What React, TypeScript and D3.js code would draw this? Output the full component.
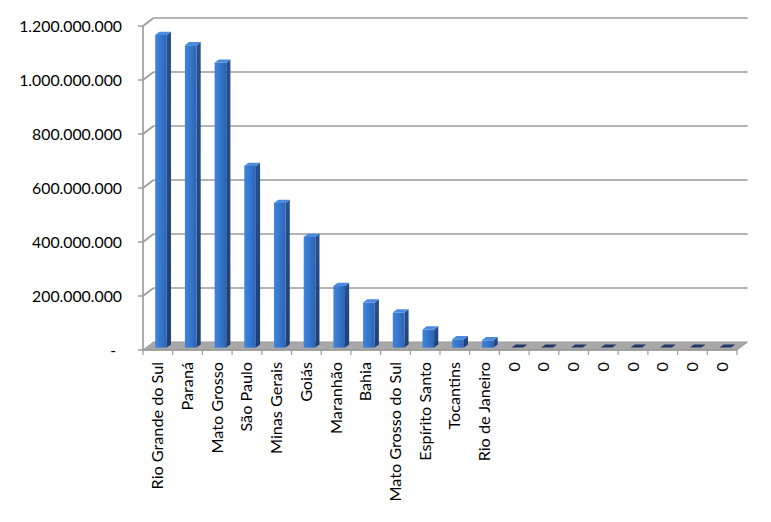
import React from "react";
import * as d3 from "d3";

const categories: string[] = [
  "Rio Grande do Sul", "Paraná", "Mato Grosso", "São Paulo", "Minas Gerais", "Goiás",
  "Maranhão", "Bahia", "Mato Grosso do Sul", "Espírito Santo", "Tocantins", "Rio de Janeiro",
  "0", "0", "0", "0", "0", "0", "0", "0",
];
const values: number[] = [
  1158e6, 1120e6, 1055e6, 673e6, 536e6, 410e6, 228e6, 167e6, 130e6, 67e6, 31e6, 27e6,
  0, 0, 0, 0, 0, 0, 0, 0,
];
const yTicks: number[] = [0, 200e6, 400e6, 600e6, 800e6, 1000e6, 1200e6];

const W = 771;
const H = 522;
const left = 143;
const right = 737;
const bottom = 350;
const top = 26;
const DX = 10.5;
const DY = -8;
const FONT = "Lato, 'Open Sans', sans-serif";

const ptBR = d3.formatLocale({ decimal: ",", thousands: ".", grouping: [3], currency: ["R$", ""] });
const fmt = ptBR.format(",.0f");

export default function App() {
  const x = d3.scaleBand<number>().domain(d3.range(categories.length)).range([left, right]).paddingInner(0).paddingOuter(0);
  const y = d3.scaleLinear().domain([0, 1.2e9]).range([bottom, top]);
  const bw = x.bandwidth() * 0.39;
  const t0 = 0.3;
  const t1 = 0.7;

  const pts = (arr: [number, number][]) => arr.map((p) => p.join(",")).join(" ");

  return (
    <svg width={W} height={H} style={{ position: "absolute", left: 0, top: 0, background: "#fff" }}>
      <defs>
        <linearGradient id="front" x1="0" x2="1" y1="0" y2="0">
          <stop offset="0" stopColor="#3f84dc" />
          <stop offset="0.5" stopColor="#3676cc" />
          <stop offset="1" stopColor="#2c63b3" />
        </linearGradient>
        <linearGradient id="side" x1="0" x2="0" y1="0" y2="1">
          <stop offset="0" stopColor="#26508f" />
          <stop offset="1" stopColor="#1d3f73" />
        </linearGradient>
      </defs>

      {/* back wall gridlines */}
      {yTicks.slice(1).map((v) => (
        <g key={"g" + v} stroke="#9a9a9a" strokeWidth={1.6} fill="none">
          <line x1={left + DX} x2={right + DX} y1={y(v) + DY} y2={y(v) + DY} />
          <line x1={left} x2={left + DX} y1={y(v)} y2={y(v) + DY} />
        </g>
      ))}

      {/* floor */}
      <polygon
        points={pts([
          [left, bottom],
          [right, bottom],
          [right + DX, bottom + DY],
          [left + DX, bottom + DY],
        ])}
        fill="#a8a8a8"
        stroke="#9a9a9a"
        strokeWidth={1}
      />

      {/* y axis */}
      <line x1={left} x2={left} y1={top} y2={bottom} stroke="#9a9a9a" strokeWidth={1.6} />
      {yTicks.map((v) => (
        <line key={"yt" + v} x1={left - 5} x2={left} y1={y(v)} y2={y(v)} stroke="#9a9a9a" strokeWidth={1.4} />
      ))}
      {yTicks.map((v) => (
        <text
          key={"yl" + v}
          x={v === 0 ? 116 : 122}
          y={y(v)}
          dy="0.36em"
          textAnchor="end"
          fontFamily={FONT}
          fontSize={15.8}
          fill="#000"
        >
          {v === 0 ? "-" : fmt(v)}
        </text>
      ))}

      {/* bars */}
      {values.map((v, i) => {
        const cx = (x(i) as number) + x.bandwidth() / 2;
        const fx0 = cx - bw / 2 + t0 * DX;
        const fx1 = cx + bw / 2 + t0 * DX;
        const by = bottom + t0 * DY;
        const ty = y(v) + t0 * DY;
        const ddx = (t1 - t0) * DX;
        const ddy = (t1 - t0) * DY;
        const topFace = pts([
          [fx0, ty],
          [fx1, ty],
          [fx1 + ddx, ty + ddy],
          [fx0 + ddx, ty + ddy],
        ]);
        if (v === 0) {
          return <polygon key={"b" + i} points={topFace} fill="#1f3864" />;
        }
        return (
          <g key={"b" + i}>
            <polygon
              points={pts([
                [fx1, ty],
                [fx1 + ddx, ty + ddy],
                [fx1 + ddx, by + ddy],
                [fx1, by],
              ])}
              fill="url(#side)"
            />
            <rect x={fx0} y={ty} width={fx1 - fx0} height={by - ty} fill="url(#front)" />
            <polygon points={topFace} fill="#4a8be0" />
          </g>
        );
      })}

      {/* x axis */}
      <line x1={left} x2={right} y1={bottom} y2={bottom} stroke="#9a9a9a" strokeWidth={1.4} />
      {d3.range(categories.length + 1).map((i) => {
        const xx = i < categories.length ? (x(i) as number) : right;
        return <line key={"xt" + i} x1={xx} x2={xx} y1={bottom} y2={bottom + 5} stroke="#9a9a9a" strokeWidth={1.2} />;
      })}
      {categories.map((c, i) => {
        const cx = (x(i) as number) + x.bandwidth() / 2;
        return (
          <text
            key={"xl" + i}
            transform={`translate(${cx + 5.5},${bottom + 12}) rotate(-90)`}
            textAnchor="end"
            fontFamily={FONT}
            fontSize={16.2}
            fill="#000"
          >
            {c}
          </text>
        );
      })}
    </svg>
  );
}
